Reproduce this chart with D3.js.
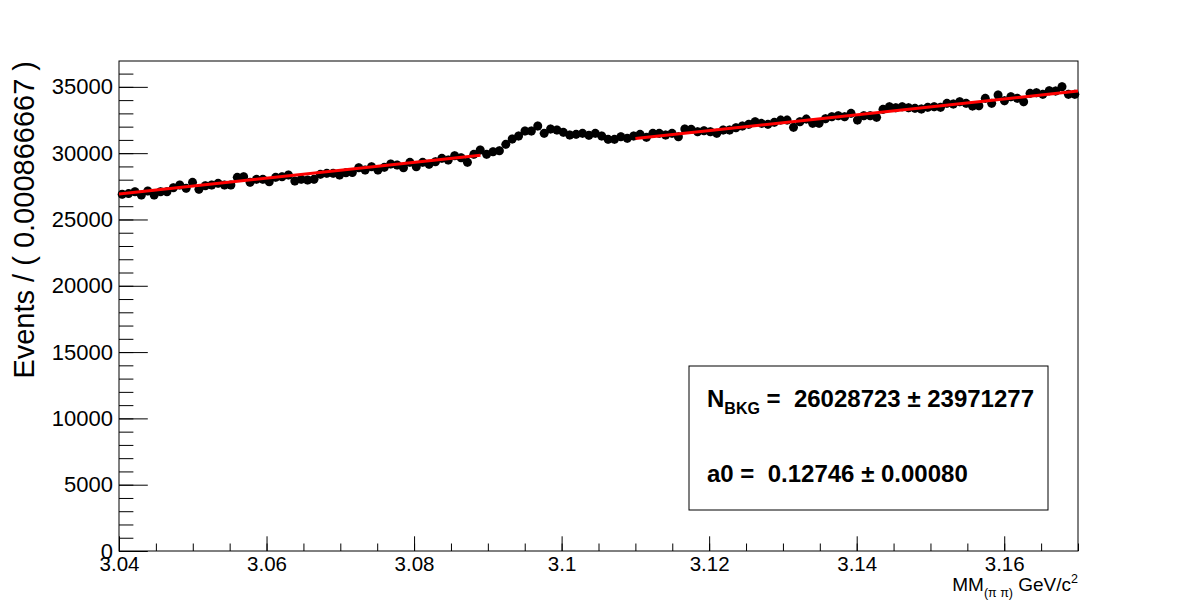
<!DOCTYPE html>
<html>
<head>
<meta charset="utf-8">
<script src="https://cdn.jsdelivr.net/npm/d3@7"></script>
<style>
  html, body { margin: 0; padding: 0; background: #fff; }
  svg { display: block; font-family: "Liberation Sans", Arial, Helvetica, sans-serif; }
  .pre { white-space: pre; }
</style>
</head>
<body>
<svg id="chart" width="1198" height="613"></svg>
<script>
// ---------------- data ----------------
const xMin = 3.04, xMax = 3.17;
const binWidth = 0.000866667;
const counts = [
  26900, 26950, 27091, 26842, 27144, 26842, 27091, 27091, 27393, 27596,
  27348, 27800, 27272, 27544, 27596, 27725, 27596, 27596, 28177, 28222,
  27800, 28026, 28026, 27845, 28177, 28222, 28350, 27898, 28026, 27973,
  28026, 28403, 28479, 28479, 28350, 28524, 28539, 28901, 28727, 28976,
  28727, 28931, 29180, 29104, 28901, 29308, 28976, 29308, 29157, 29353,
  29610, 29482, 29806, 29655, 29308, 29911, 30235, 29911, 30107, 30183,
  30665, 31064, 31291, 31668, 31668, 32045, 31494, 31819, 31743, 31570,
  31366, 31419, 31494, 31344, 31494, 31291, 31042, 31042, 31238, 31117,
  31291, 31419, 31193, 31494, 31494, 31366, 31494, 31238, 31819, 31796,
  31615, 31691, 31615, 31494, 31743, 31743, 31917, 32045, 32173, 32369,
  32248, 32173, 32324, 32496, 32496, 31947, 32369, 32572, 32248, 32248,
  32596, 32747, 32823, 32747, 33003, 32496, 32823, 32823, 32701, 33304,
  33500, 33425, 33500, 33425, 33380, 33327, 33455, 33500, 33455, 33757,
  33704, 33877, 33757, 33553, 33576, 34134, 33757, 34382, 33953, 34254,
  34134, 33877, 34511, 34556, 34435, 34707, 34684, 35008, 34435, 34435
];
// fitted background line (two sidebands), endpoints [x, y]
const fitLeft  = [[3.040, 26922], [3.089, 29850]];
const fitRight = [[3.110, 31104], [3.170, 34689]];

const xMajorTicks = [3.04, 3.06, 3.08, 3.10, 3.12, 3.14, 3.16];
const xMajorLabels = ["3.04", "3.06", "3.08", "3.1", "3.12", "3.14", "3.16"];
const yMajorTicks = [0, 5000, 10000, 15000, 20000, 25000, 30000, 35000];
const yMax = 36950;

const legendLines = [
  { main: "N", sub: "BKG", rest: " =  26028723 \u00B1 23971277" },
  { main: "a0 =  0.12746 \u00B1 0.00080", sub: null, rest: "" }
];

// ---------------- layout ----------------
const svg = d3.select("#chart");
const L = 119, R = 1078, T = 61, B = 551;
const x = d3.scaleLinear().domain([xMin, xMax]).range([L, R]);
const y = d3.scaleLinear().domain([0, yMax]).range([B, T]);
const FONT = "'Liberation Sans', Arial, sans-serif";

svg.append("rect").attr("width", 1198).attr("height", 613).attr("fill", "#fff");

// minor ticks x
const xMinor = d3.range(0, 27).map(i => +(xMin + i * 0.005).toFixed(3)).filter(v => v <= xMax);
svg.append("g").attr("transform", `translate(0,${B})`)
  .call(d3.axisBottom(x).tickValues(xMinor).tickSize(-7.5).tickFormat(""))
  .call(g => g.select(".domain").remove())
  .call(g => g.selectAll("line").attr("stroke", "#000"));
// major x
svg.append("g").attr("transform", `translate(0,${B})`)
  .call(d3.axisBottom(x).tickValues(xMajorTicks).tickSize(-14.7).tickPadding(5.5)
        .tickFormat((d, i) => xMajorLabels[i]))
  .call(g => g.select(".domain").remove())
  .call(g => g.selectAll("line").attr("stroke", "#000"))
  .call(g => g.selectAll("text").attr("font-size", 20.5).attr("fill", "#000")
        .attr("font-family", FONT));

// minor ticks y
const yMinor = d3.range(0, 37).map(i => i * 1000).filter(v => v <= yMax);
svg.append("g").attr("transform", `translate(${L},0)`)
  .call(d3.axisLeft(y).tickValues(yMinor).tickSize(-14.4).tickFormat(""))
  .call(g => g.select(".domain").remove())
  .call(g => g.selectAll("line").attr("stroke", "#000"));
// major y
svg.append("g").attr("transform", `translate(${L},0)`)
  .call(d3.axisLeft(y).tickValues(yMajorTicks).tickSize(-28.8).tickPadding(6)
        .tickFormat(d3.format("d")))
  .call(g => g.select(".domain").remove())
  .call(g => g.selectAll("line").attr("stroke", "#000"))
  .call(g => g.selectAll("text").attr("font-size", 22).attr("fill", "#000")
        .attr("font-family", FONT));

// frame
svg.append("rect").attr("x", L).attr("y", T).attr("width", R - L).attr("height", B - T)
  .attr("fill", "none").attr("stroke", "#000").attr("stroke-width", 1);

// data points
const pts = counts.map((c, i) => ({ x: xMin + (i + 0.5) * binWidth, y: c }));
const gp = svg.append("g");
gp.selectAll("line.eb").data(pts).join("line").attr("class", "eb")
  .attr("x1", d => x(d.x)).attr("x2", d => x(d.x))
  .attr("y1", d => y(d.y - Math.sqrt(d.y)) + 2).attr("y2", d => y(d.y + Math.sqrt(d.y)) - 2)
  .attr("stroke", "#000").attr("stroke-width", 1);
gp.selectAll("circle").data(pts).join("circle")
  .attr("cx", d => x(d.x)).attr("cy", d => y(d.y)).attr("r", 4.5).attr("fill", "#000");

// fit line
const line = d3.line().x(d => x(d[0])).y(d => y(d[1]));
[fitLeft, fitRight].forEach(seg => {
  svg.append("path").attr("d", line(seg)).attr("fill", "none")
    .attr("stroke", "#ff0000").attr("stroke-width", 3);
});

// axis titles
const xt = svg.append("text").attr("x", R).attr("y", 591).attr("text-anchor", "end")
  .attr("font-size", 19).attr("fill", "#000").attr("class", "pre");
xt.append("tspan").text("MM");
xt.append("tspan").attr("font-size", 12.5).attr("dy", 6).text("(\u03C0 \u03C0)");
xt.append("tspan").attr("dy", -6).text(" GeV/c");
xt.append("tspan").attr("font-size", 12.5).attr("dy", -8).text("2");

svg.append("text").attr("transform", `translate(34,${T}) rotate(-90)`)
  .attr("text-anchor", "end").attr("font-size", 29).attr("fill", "#000")
  .text("Events / ( 0.000866667 )");

// legend box
svg.append("rect").attr("x", 689).attr("y", 366).attr("width", 359).attr("height", 144)
  .attr("fill", "#fff").attr("stroke", "#000").attr("stroke-width", 1);
const baselines = [407, 482];
legendLines.forEach((ln, i) => {
  const t = svg.append("text").attr("x", 707).attr("y", baselines[i]).attr("class", "pre")
    .attr("font-size", 24).attr("font-weight", "bold").attr("fill", "#000");
  t.append("tspan").text(ln.main);
  if (ln.sub) {
    t.append("tspan").attr("font-size", 16).attr("dy", 7).text(ln.sub);
    t.append("tspan").attr("dy", -7).text(ln.rest);
  }
});
</script>
</body>
</html>
